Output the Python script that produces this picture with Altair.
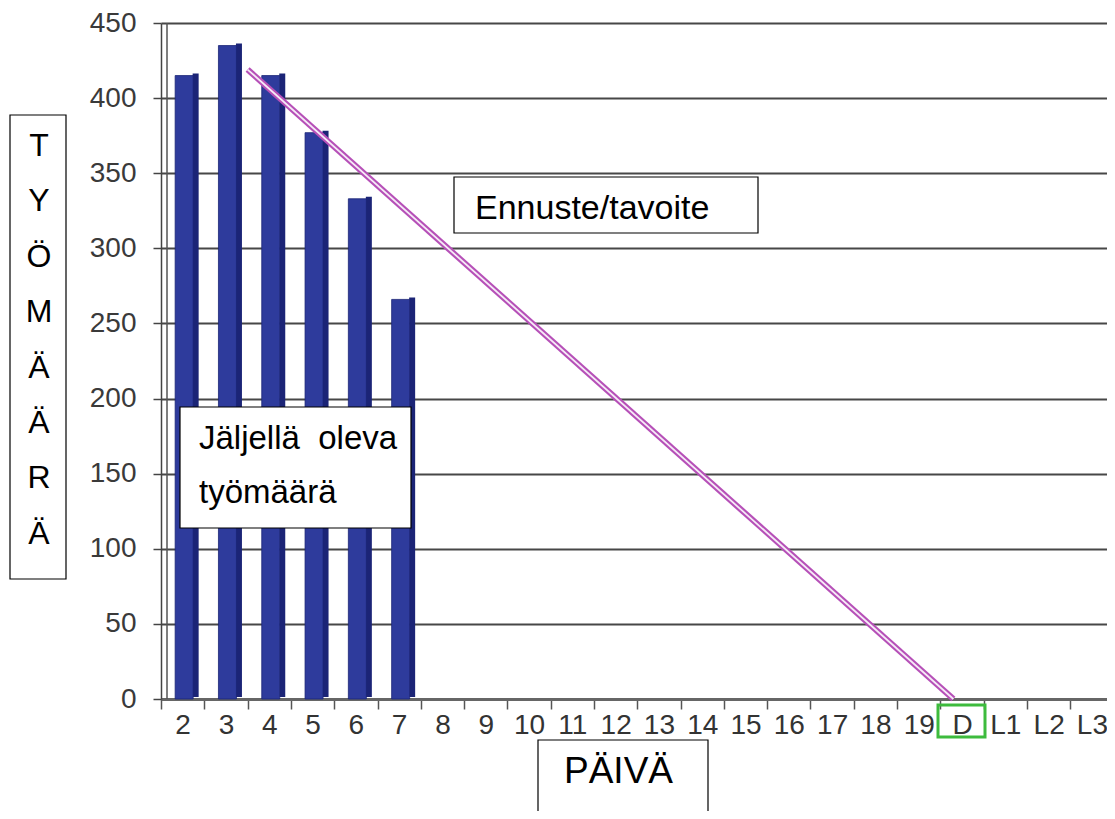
import altair as alt
import pandas as pd

# ---- data ----
days = [str(d) for d in range(2, 20)] + ["D", "L1", "L2", "L3"]
bar_days = ["2", "3", "4", "5", "6", "7"]
remaining = [415, 435, 415, 377, 333, 266]
# forecast line, x in band units (0 = left edge of first day band)
target_pos = [2.0, 18.3]
target_val = [419, 0]
y_ticks = list(range(0, 451, 50))

bars_df = pd.DataFrame({"day": bar_days, "work": remaining})
line_df = pd.DataFrame({"pos": target_pos, "work": target_val})

FONT = "Liberation Sans"
W, H = 946, 676
STEP = 43.3
XR = [0, STEP * len(days)]

xband = alt.X("day:N", scale=alt.Scale(domain=days, range=XR, paddingInner=0, paddingOuter=0),
              sort=days,
              axis=alt.Axis(title=None, labelAngle=0, labelFont=FONT, labelFontSize=28,
                            labelColor="#333333", labelPadding=2, tickSize=10,
                            tickColor="#555555", tickWidth=1.5, tickBand="extent",
                            domainColor="#666666", domainWidth=3, grid=False))
yq = alt.Y("work:Q", scale=alt.Scale(domain=[0, 450], nice=False),
           axis=alt.Axis(title=None, values=y_ticks, labelFont=FONT, labelFontSize=28,
                         labelColor="#3a3a3a", labelPadding=17, tickSize=8,
                         tickColor="#444444", tickWidth=1.5, domainColor="#444444",
                         domainWidth=1.5, grid=True, gridColor="#474747", gridWidth=2))

side = alt.Chart(bars_df).mark_bar(width=6, xOffset=13, yOffset=-2, color="#1b2476").encode(x=xband, y=yq)
front = alt.Chart(bars_df).mark_bar(width=18, xOffset=1.5, color="#2e3b9c",
                                    stroke="#1b2476", strokeWidth=0.8).encode(x=xband, y=yq)
bars = alt.layer(side, front)

xq = alt.X("pos:Q", scale=alt.Scale(domain=[0, len(days)], range=XR, nice=False), axis=None)
yl = alt.Y("work:Q")
line_outer = alt.Chart(line_df).mark_line(color="#b650b8", strokeWidth=6).encode(x=xq, y=yl)
line_inner = alt.Chart(line_df).mark_line(color="#f6eaf7", strokeWidth=1.8).encode(x=xq, y=yl)
lines = alt.layer(line_outer, line_inner)

one = alt.Data(values=[{"a": 1}])


def box(x1, x2, y1, y2, stroke="black", sw=1.2):
    return alt.Chart(one).mark_rect(fill="white", stroke=stroke, strokeWidth=sw).encode(
        x=alt.value(x1), x2=alt.value(x2), y=alt.value(y1), y2=alt.value(y2))


def label(txt, x, y, size=33, align="left", lh=None):
    kw = dict(text=txt, font=FONT, fontSize=size, color="black", align=align, baseline="alphabetic")
    if lh is not None:
        kw["lineHeight"] = lh
    return alt.Chart(one).mark_text(**kw).encode(x=alt.value(x), y=alt.value(y))


wall = alt.Chart(one).mark_rule(color="#555555", strokeWidth=1.5).encode(
    x=alt.value(6), y=alt.value(0), y2=alt.value(H))

green = alt.Chart(one).mark_rect(fill=None, stroke="#3dbb3d", strokeWidth=3).encode(
    x=alt.value(777), x2=alt.value(824), y=alt.value(682), y2=alt.value(714))

annotations = alt.layer(
    box(293, 597, 154, 210), label("Ennuste/tavoite", 314, 196, size=34),
    box(19, 250, 384, 505), label(["Jäljellä\u00a0\u00a0oleva", "työmäärä"], 38, 426, lh=54),
    box(-151, -95, 92, 556),
    label(["T", "Y", "Ö", "M", "Ä", "Ä", "R", "Ä"], -122, 133, size=32, align="center", lh=55.4),
    box(377, 547, 717, 800), label("PÄIVÄ", 403, 760, size=37),
    green,
)

chart = alt.layer(bars, wall, lines, annotations).resolve_scale(x="independent").properties(
    width=W, height=H,
    autosize=alt.AutoSizeParams(type="none"),
    padding={"left": 153, "top": 15, "right": 0, "bottom": 112},
).configure_view(stroke=None)

chart.save("out.html", embed_options={"renderer": "svg", "actions": False})
